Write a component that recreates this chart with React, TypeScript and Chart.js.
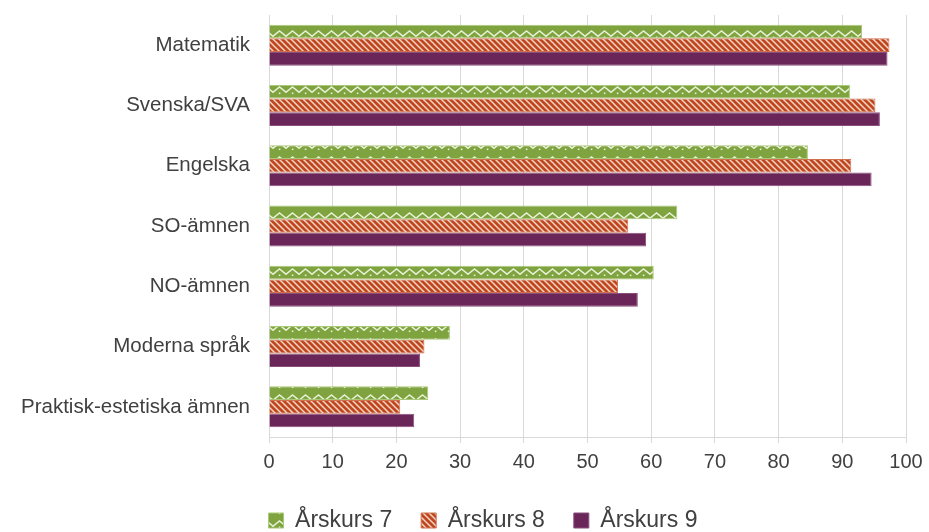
import React, { useEffect, useRef } from "react";
import { Chart, registerables } from "chart.js";

Chart.register(...registerables);

const categories = [
  "Matematik",
  "Svenska/SVA",
  "Engelska",
  "SO-ämnen",
  "NO-ämnen",
  "Moderna språk",
  "Praktisk-estetiska ämnen",
];
const seriesNames = ["Årskurs 7", "Årskurs 8", "Årskurs 9"];
const ak7 = [93.1, 91.2, 84.6, 64.1, 60.4, 28.4, 25.0];
const ak8 = [97.4, 95.2, 91.4, 56.4, 54.8, 24.4, 20.6];
const ak9 = [97.1, 95.9, 94.6, 59.2, 57.9, 23.7, 22.8];
const xTicks = [0, 10, 20, 30, 40, 50, 60, 70, 80, 90, 100];

const GREEN = "#7fa33f";
const ORANGE = "#bf461f";
const PURPLE = "#6a2659";
const FONT = "Liberation Sans, Arial, sans-serif";
const LEGEND_SHIFT = 30;

function zigzagPattern(ctx: CanvasRenderingContext2D): CanvasPattern | string {
  const c = document.createElement("canvas");
  c.width = 13;
  c.height = 14;
  const g = c.getContext("2d");
  if (!g) return GREEN;
  g.fillStyle = GREEN;
  g.fillRect(0, 0, 13, 14);
  g.strokeStyle = "rgba(238,246,222,0.95)";
  g.lineWidth = 1.5;
  g.beginPath();
  g.moveTo(-1, 9);
  g.lineTo(6.5, 3);
  g.lineTo(14, 9);
  g.stroke();
  g.fillStyle = "rgba(238,246,222,0.95)";
  g.fillRect(5.8, 8.5, 1.6, 1.6);
  return ctx.createPattern(c, "repeat") || GREEN;
}

function stripePattern(ctx: CanvasRenderingContext2D): CanvasPattern | string {
  const c = document.createElement("canvas");
  c.width = 6;
  c.height = 6;
  const g = c.getContext("2d");
  if (!g) return ORANGE;
  g.fillStyle = ORANGE;
  g.fillRect(0, 0, 6, 6);
  g.strokeStyle = "rgba(248,222,205,0.95)";
  g.lineWidth = 1.5;
  g.beginPath();
  g.moveTo(-1, -1);
  g.lineTo(7, 7);
  g.moveTo(-1, 5);
  g.lineTo(1, 7);
  g.moveTo(5, -1);
  g.lineTo(7, 1);
  g.stroke();
  return ctx.createPattern(c, "repeat") || ORANGE;
}

const legendShiftPlugin = {
  id: "legendShift",
  afterLayout(chart: any) {
    const l = chart.legend;
    if (l) {
      l.left += LEGEND_SHIFT;
      l.right += LEGEND_SHIFT;
    }
  },
};

export default function App() {
  const ref = useRef<HTMLCanvasElement | null>(null);

  useEffect(() => {
    document.body.style.margin = "0";
    const canvas = ref.current;
    if (!canvas) return;
    const ctx = canvas.getContext("2d");
    if (!ctx) return;
    const green = zigzagPattern(ctx);
    const orange = stripePattern(ctx);

    const chart = new Chart(canvas, {
      type: "bar",
      data: {
        labels: categories,
        datasets: [
          {
            label: seriesNames[0],
            data: ak7,
            backgroundColor: green,
            borderColor: "#a9c877",
            borderWidth: 1,
          },
          {
            label: seriesNames[1],
            data: ak8,
            backgroundColor: orange,
            borderColor: "#d0704f",
            borderWidth: 1,
          },
          {
            label: seriesNames[2],
            data: ak9,
            backgroundColor: PURPLE,
            borderColor: "#8a4f7d",
            borderWidth: 1,
          },
        ],
      },
      options: {
        indexAxis: "y",
        responsive: false,
        animation: false,
        maintainAspectRatio: false,
        layout: { padding: { top: 15, right: 23, bottom: 0, left: 0 } },
        datasets: {
          bar: { barPercentage: 1, categoryPercentage: 0.68 },
        },
        scales: {
          x: {
            min: 0,
            max: 100,
            afterBuildTicks: (scale: any) => {
              scale.ticks = xTicks.map((v) => ({ value: v }));
            },
            afterFit: (scale: any) => {
              scale.height = 43;
              scale.paddingRight = 0;
              scale.paddingLeft = 0;
            },
            grid: {
              color: "#d9d9d9",
              lineWidth: 1,
              tickLength: 6,
              drawTicks: true,
            },
            border: { display: true, color: "#d9d9d9" },
            ticks: {
              color: "#404040",
              font: { family: FONT, size: 20 },
              padding: 7,
            },
          },
          y: {
            grid: { display: false, drawTicks: false },
            border: { display: true, color: "#d9d9d9" },
            afterFit: (scale: any) => {
              scale.width = 269;
              scale.paddingTop = 0;
              scale.paddingBottom = 0;
            },
            ticks: {
              color: "#404040",
              font: { family: FONT, size: 20.5 },
              padding: 19,
            },
          },
        },
        plugins: {
          legend: {
            position: "bottom",
            labels: {
              color: "#404040",
              font: { family: FONT, size: 23 },
              boxWidth: 15,
              boxHeight: 15,
              padding: 29,
            },
          },
          tooltip: { enabled: false },
        },
      },
      plugins: [legendShiftPlugin],
    } as any);

    return () => chart.destroy();
  }, []);

  return (
    <div style={{ width: 929, height: 532, overflow: "hidden" }}>
      <canvas ref={ref} width={929} height={542} style={{ display: "block" }} />
    </div>
  );
}
